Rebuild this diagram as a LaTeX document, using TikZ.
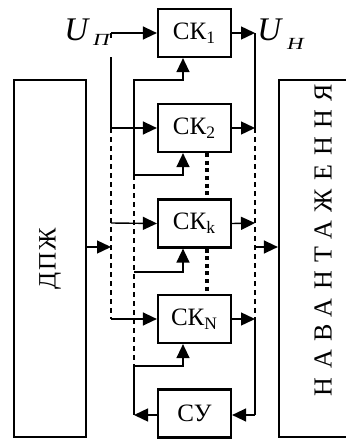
\documentclass[tikz,border=0pt]{standalone}
\usepackage{fontspec}
\usepackage{graphicx}
\setmainfont{Liberation Serif}
\usetikzlibrary{arrows.meta}
\begin{document}
\begin{tikzpicture}[x=0.5pt, y=-0.5pt, line join=miter,
  blk/.style={draw, line width=1.1pt, minimum width=36.5pt, minimum height=24pt,
    inner sep=0pt, font=\fontsize{12.5}{14}\selectfont},
  bigblk/.style={draw, line width=1.1pt, minimum width=36pt, minimum height=178.5pt,
    inner sep=0pt, font=\fontsize{12.5}{14}\selectfont},
  wire/.style={line width=0.7pt},
  arr/.style={wire, -{Triangle[length=7pt, width=6.5pt]}},
  bus/.style={wire, dash pattern=on 2.5pt off 2pt},
  dotline/.style={line width=1.8pt, dash pattern=on 2pt off 1.8pt}]
  \useasboundingbox (0,0) rectangle (346,439);
  % blocks
  \node[blk] (sk1) at (194.5,33) {СК\textsubscript{1}};
  \node[blk] (sk2) at (194.5,128) {СК\textsubscript{2}};
  \node[blk] (skk) at (194.5,223.5) {СК\textsubscript{k}};
  \node[blk] (skN) at (194.5,319) {СК\textsubscript{N}};
  \node[blk] (su) at (194.5,413.5) {СУ};
  \node[bigblk] (dpzh) at (50,258.5)
    {\rotatebox{90}{\addfontfeature{LetterSpace=8}ДПЖ}};
  \node[bigblk, minimum width=44pt] (load) at (323,258.5) {};
  \node[rotate=90, inner sep=0pt, font=\fontsize{13}{14}\selectfont] (loadtxt) at (323,240)
    {\addfontfeature{LetterSpace=33}НАВАНТАЖЕННЯ};
  % labels
  \node[anchor=base west, inner sep=0pt] (up) at (64,40)
    {\fontsize{16.5}{18}\selectfont\itshape U\hspace{2.5pt}\raisebox{-2.5pt}{\scalebox{1.35}[1]{\fontsize{8.5}{9}\selectfont П}}};
  \node[anchor=base west, inner sep=0pt] (un) at (257,40)
    {\fontsize{16.5}{18}\selectfont\itshape U\hspace{3pt}\raisebox{-4.5pt}{\scalebox{1.35}[1]{\fontsize{8.5}{9}\selectfont Н}}};
  % supply bus
  \coordinate (p1) at (111,33);
  \coordinate (pa) at (111,57);
  \coordinate (p2) at (111,128);
  \coordinate (pk) at (111,223);
  \coordinate (pin) at (111,247);
  \coordinate (pN) at (111,319);
  \draw[arr] (p1) -- (sk1.west);
  \draw[wire] (p1) -- ++(0,5);
  \draw[wire] (pa) -- (p2);
  \draw[arr] (p2) -- (sk2.west);
  \draw[bus] (p2) -- (pN);
  \draw[arr] (pk) -- (skk.west);
  \draw[arr] (pN) -- (skN.west);
  \draw[arr] (dpzh.east |- pin) -- (pin);
  % control bus
  \coordinate (c1) at (134,80);
  \coordinate (c2) at (134,175);
  \coordinate (ck) at (134,272);
  \coordinate (cN) at (134,366);
  \coordinate (cu) at (134,415);
  \draw[arr] (c2) -- (c1) -| ([xshift=-5.75pt]sk1.south);
  \draw[arr] (c2) -| ([xshift=-5.75pt]sk2.south);
  \draw[bus] (c2) -- (cN);
  \draw[arr] (ck) -| ([xshift=-5.75pt]skk.south);
  \draw[arr] (cN) -| ([xshift=-5.75pt]skN.south);
  \draw[wire] (cN) -- (cu);
  \draw[arr] (su.west |- cu) -- (cu);
  % load bus
  \coordinate (o1) at (255,33);
  \coordinate (o2) at (255,128);
  \coordinate (ok) at (255,223);
  \coordinate (oL) at (255,247);
  \coordinate (oN) at (255,319);
  \coordinate (ou) at (255,415);
  \draw[arr] (sk1.east) -- (o1);
  \draw[wire] (o1) -- (o2);
  \draw[arr] (sk2.east) -- (o2);
  \draw[bus] (o2) -- (oN);
  \draw[arr] (skk.east) -- (ok);
  \draw[arr] (skN.east) -- (oN);
  \draw[wire] (oN) -- (ou);
  \draw[arr] (ou) -- (su.east |- ou);
  \draw[arr] (oL) -- (load.west |- oL);
  % omitted blocks
  \draw[dotline] ([xshift=6.25pt]sk2.south) -- ([xshift=6.25pt]skk.north);
  \draw[dotline] ([xshift=6.25pt]skk.south) -- ([xshift=6.25pt]skN.north);
\end{tikzpicture}
\end{document}
